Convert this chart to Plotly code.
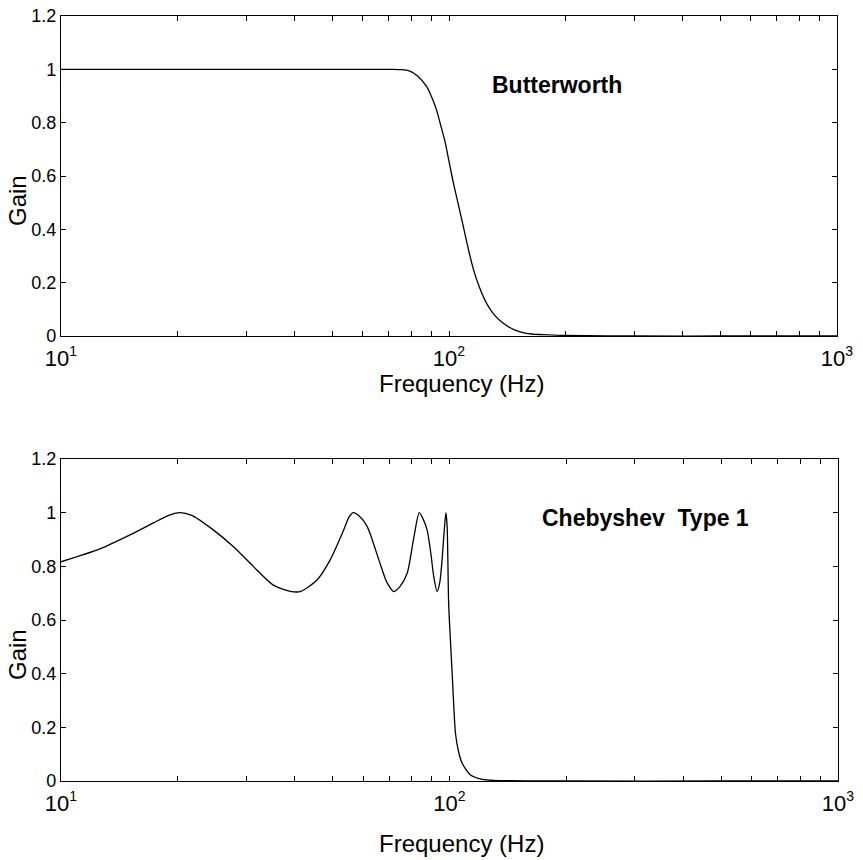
import plotly.graph_objects as go

# ---- data ----
butter_freq = [10, 20, 40, 60, 70, 75, 79, 83, 87.6, 90, 92.9, 95, 97.7, 100, 102.6, 106, 108.9, 112, 115.6, 120, 125, 131, 138, 148, 158, 175, 200, 300, 500, 1000]
butter_gain = [1.0, 1.0, 1.0, 1.0, 1.0, 0.999, 0.994, 0.975, 0.935, 0.90, 0.847, 0.795, 0.728, 0.655, 0.575, 0.485, 0.41, 0.33, 0.25, 0.18, 0.1225, 0.078, 0.0475, 0.022, 0.01, 0.005, 0.002, 0.0, 0.0, 0.0]

cheb_freq = [10, 12.6, 15.1, 17.3, 18.8, 20.2, 21.7, 24.7, 27.8, 31.3, 35.2, 38.9, 41.3, 45.6, 49.3, 53.4, 55.2, 56.6, 58.3, 61.4, 65.8, 69.0, 71.9, 74.6, 77.8, 81.0, 83.6, 85.6, 87.6, 89.5, 91.1, 92.9, 94.4, 95.7, 97.0, 97.9, 98.6, 99.5, 100.5, 101.6, 103.6, 105.5, 107.8, 113.3, 121.4, 130, 200, 500, 1000]
cheb_gain = [0.817, 0.865, 0.918, 0.962, 0.988, 1.0, 0.99, 0.935, 0.873, 0.799, 0.73, 0.707, 0.706, 0.749, 0.824, 0.935, 0.985, 1.0, 0.99, 0.948, 0.824, 0.74, 0.706, 0.725, 0.774, 0.91, 1.0, 0.975, 0.935, 0.85, 0.761, 0.706, 0.74, 0.824, 0.94, 1.0, 0.95, 0.662, 0.53, 0.401, 0.178, 0.11, 0.066, 0.022, 0.006, 0.002, 0.0, 0.0, 0.0]

x_tickvals = [10, 20, 30, 40, 50, 60, 70, 80, 90, 100, 200, 300, 400, 500, 600, 700, 800, 900, 1000]
x_major = {10: "10<sup><span style='font-size:14px'>1</span></sup>",
           100: "10<sup><span style='font-size:14px'>2</span></sup>",
           1000: "10<sup><span style='font-size:14px'>3</span></sup>"}
y_tickvals = [0, 0.2, 0.4, 0.6, 0.8, 1.0, 1.2]
y_ticktext = ["0", "0.2", "0.4", "0.6", "0.8", "1", "1.2"]

titles = ["Butterworth", "Chebyshev  Type 1"]
x_title = "Frequency (Hz)"
y_title = "Gain"

FONT = "Liberation Sans, Arial, sans-serif"
W, H = 863, 860

fig = go.Figure()
fig.add_trace(go.Scatter(x=butter_freq, y=butter_gain, mode="lines",
                         line=dict(color="black", width=1.3, shape="spline", smoothing=0.9),
                         xaxis="x", yaxis="y", showlegend=False))
fig.add_trace(go.Scatter(x=cheb_freq, y=cheb_gain, mode="lines",
                         line=dict(color="black", width=1.3, shape="spline", smoothing=0.7),
                         xaxis="x2", yaxis="y2", showlegend=False))

def px_dom_x(a, b):
    return [a / W, b / W]

def px_dom_y(top, bottom):
    return [(H - bottom) / H, (H - top) / H]

def px_x(p):
    return p / W

def px_y(p):
    return (H - p) / H

x_ticktext = [x_major.get(v, "") for v in x_tickvals]

xcommon = dict(type="log", range=[1, 3], tickmode="array", tickvals=x_tickvals,
               ticktext=x_ticktext, ticks="inside", ticklen=5, tickwidth=1,
               tickcolor="black", showline=True, linecolor="black", linewidth=1.3,
               mirror="ticks", showgrid=False, zeroline=False, automargin=False,
               ticklabelstandoff=2,
               tickfont=dict(family=FONT, size=22, color="black"))
ycommon = dict(range=[0, 1.2], tickmode="array", tickvals=y_tickvals, ticktext=y_ticktext,
               ticks="inside", ticklen=5, tickwidth=1, tickcolor="black",
               showline=True, linecolor="black", linewidth=1.3, mirror="ticks",
               showgrid=False, zeroline=False, automargin=False,
               tickfont=dict(family=FONT, size=18, color="black"))

tfont = dict(family=FONT, size=24, color="black")
annotations = [
    dict(text="<b>" + titles[0] + "</b>", x=px_x(557), y=px_y(85)),
    dict(text="<b>" + titles[1] + "</b>", x=px_x(645), y=px_y(518)),
    dict(text=x_title, x=px_x(461), y=px_y(383)),
    dict(text=x_title, x=px_x(461), y=px_y(843)),
    dict(text=y_title, x=px_x(17), y=px_y(201), textangle=-90),
    dict(text=y_title, x=px_x(17), y=px_y(655), textangle=-90),
]
for a in annotations:
    a.update(xref="paper", yref="paper", xanchor="center", yanchor="middle",
             showarrow=False, font=tfont)
annotations[0]["font"] = dict(family=FONT, size=23, color="black")
annotations[1]["font"] = dict(family=FONT, size=23, color="black")

fig.update_layout(
    width=W, height=H,
    margin=dict(l=0, r=0, t=0, b=0, autoexpand=False),
    paper_bgcolor="white", plot_bgcolor="white",
    xaxis=dict(domain=px_dom_x(61, 837), anchor="y", **xcommon),
    yaxis=dict(domain=px_dom_y(16, 336), anchor="x", **ycommon),
    xaxis2=dict(domain=px_dom_x(61, 838), anchor="y2", **xcommon),
    yaxis2=dict(domain=px_dom_y(459, 781), anchor="x2", **ycommon),
    annotations=annotations,
)

fig.write_html("out.html")
